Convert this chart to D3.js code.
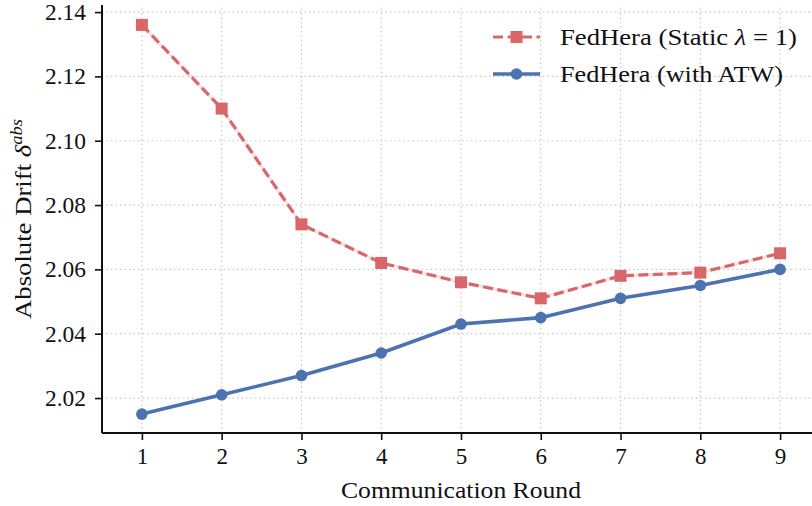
<!DOCTYPE html>
<html>
<head>
<meta charset="utf-8">
<script src="https://cdn.jsdelivr.net/npm/d3@7"></script>
<style>
  body { margin: 0; background: #fff; }
  text { font-family: "Liberation Serif", "DejaVu Serif", serif; fill: #111; }
</style>
</head>
<body>
<svg width="812" height="506"></svg>
<script>
"use strict";

// data
var rounds = [1, 2, 3, 4, 5, 6, 7, 8, 9];
var staticDrift = [2.136, 2.110, 2.074, 2.062, 2.056, 2.051, 2.058, 2.059, 2.065];
var atwDrift    = [2.015, 2.021, 2.027, 2.034, 2.043, 2.045, 2.051, 2.055, 2.060];
var yTicks = [2.02, 2.04, 2.06, 2.08, 2.10, 2.12, 2.14];
var seriesNames = ["FedHera (Static \u03bb = 1)", "FedHera (with ATW)"];

var svg = d3.select("svg"),
    width = +svg.attr("width"),
    height = +svg.attr("height");

var margin = {left: 102, top: 5, right: 0, bottom: 73};

var x = d3.scaleLinear().domain([0.5, 9.4]).range([margin.left, width]);
var y = d3.scaleLinear().domain([2.00913, 2.1422]).range([height - margin.bottom, margin.top]);

var red = "#d9676a", blue = "#4c72b0";

// grid
var grid = svg.append("g").attr("class", "grid");
grid.selectAll("line.gx").data(rounds).enter().append("line")
    .attr("x1", d => x(d)).attr("x2", d => x(d))
    .attr("y1", y.range()[0]).attr("y2", y.range()[1])
    .attr("stroke", "#c8c8c8").attr("stroke-width", 1.2)
    .attr("stroke-dasharray", "1.5,3");
grid.selectAll("line.gy").data(yTicks).enter().append("line")
    .attr("y1", d => y(d)).attr("y2", d => y(d))
    .attr("x1", x.range()[0]).attr("x2", x.range()[1])
    .attr("stroke", "#c8c8c8").attr("stroke-width", 1.2)
    .attr("stroke-dasharray", "1.5,3");

// axes
var xAxis = svg.append("g")
    .attr("transform", "translate(0," + y.range()[0] + ")")
    .call(d3.axisBottom(x).tickValues(rounds).tickFormat(d3.format("d")).tickSize(7).tickPadding(8));
var yAxis = svg.append("g")
    .attr("transform", "translate(" + x.range()[0] + ",0)")
    .call(d3.axisLeft(y).tickValues(yTicks).tickFormat(d3.format(".2f")).tickSize(7).tickPadding(9));

[xAxis, yAxis].forEach(function(a) {
  a.select(".domain").attr("stroke", "#111").attr("stroke-width", 2);
  a.selectAll(".tick line").attr("stroke", "#111").attr("stroke-width", 1.6);
  a.selectAll(".tick text").attr("font-size", 23).attr("font-family", "Liberation Serif").attr("fill", "#111");
});
yAxis.selectAll(".tick text").attr("textLength", 41).attr("lengthAdjust", "spacingAndGlyphs");
xAxis.select(".domain").attr("d", "M" + x.range()[0] + ",0H" + x.range()[1]);
yAxis.select(".domain").attr("d", "M0," + y.range()[0] + "V" + y.range()[1]);

// lines
var line = d3.line().x((d, i) => x(rounds[i])).y(d => y(d));

svg.append("path").datum(staticDrift)
    .attr("d", line).attr("fill", "none")
    .attr("stroke", red).attr("stroke-opacity", 0.2).attr("stroke-width", 3);
svg.append("path").datum(staticDrift)
    .attr("d", line).attr("fill", "none")
    .attr("stroke", red).attr("stroke-width", 3.2)
    .attr("stroke-dasharray", "10,4.5");
svg.selectAll("rect.sq").data(staticDrift).enter().append("rect")
    .attr("x", (d, i) => x(rounds[i]) - 6).attr("y", d => y(d) - 6)
    .attr("width", 12).attr("height", 12).attr("fill", red);

svg.append("path").datum(atwDrift)
    .attr("d", line).attr("fill", "none")
    .attr("stroke", blue).attr("stroke-width", 3.6);
svg.selectAll("circle.pt").data(atwDrift).enter().append("circle")
    .attr("cx", (d, i) => x(rounds[i])).attr("cy", d => y(d))
    .attr("r", 5.8).attr("fill", blue);

// legend
var leg = svg.append("g").attr("transform", "translate(493,37)");
leg.append("line").attr("x1", 0).attr("x2", 47).attr("y1", 0).attr("y2", 0)
    .attr("stroke", red).attr("stroke-width", 3.2).attr("stroke-dasharray", "10,4.5");
leg.append("rect").attr("x", 23.5 - 6).attr("y", -6).attr("width", 12).attr("height", 12).attr("fill", red);
var t1 = leg.append("text").attr("x", 67).attr("y", 8).attr("font-size", 23)
    .attr("textLength", 237).attr("lengthAdjust", "spacingAndGlyphs");
t1.append("tspan").text("FedHera (Static ");
t1.append("tspan").attr("font-style", "italic").text("\u03bb");
t1.append("tspan").text(" = 1)");

leg.append("line").attr("x1", 0).attr("x2", 47).attr("y1", 37).attr("y2", 37)
    .attr("stroke", blue).attr("stroke-width", 3.6);
leg.append("circle").attr("cx", 23.5).attr("cy", 37).attr("r", 5.8).attr("fill", blue);
leg.append("text").attr("x", 67).attr("y", 45).attr("font-size", 23)
    .attr("textLength", 223).attr("lengthAdjust", "spacingAndGlyphs")
    .text(seriesNames[1]);

// axis labels
svg.append("text")
    .attr("x", 461).attr("y", 498)
    .attr("text-anchor", "middle").attr("font-size", 23)
    .attr("textLength", 240).attr("lengthAdjust", "spacingAndGlyphs")
    .text("Communication Round");

var yl = svg.append("text")
    .attr("transform", "translate(31," + ((y.range()[0] + y.range()[1]) / 2) + ") rotate(-90)")
    .attr("text-anchor", "middle").attr("font-size", 23)
    .attr("textLength", 200).attr("lengthAdjust", "spacingAndGlyphs");
yl.append("tspan").text("Absolute Drift ");
yl.append("tspan").attr("font-style", "italic").text("\u03b4");
yl.append("tspan").attr("font-style", "italic").attr("font-size", 16).attr("dy", -9).text("abs");
</script>
</body>
</html>
